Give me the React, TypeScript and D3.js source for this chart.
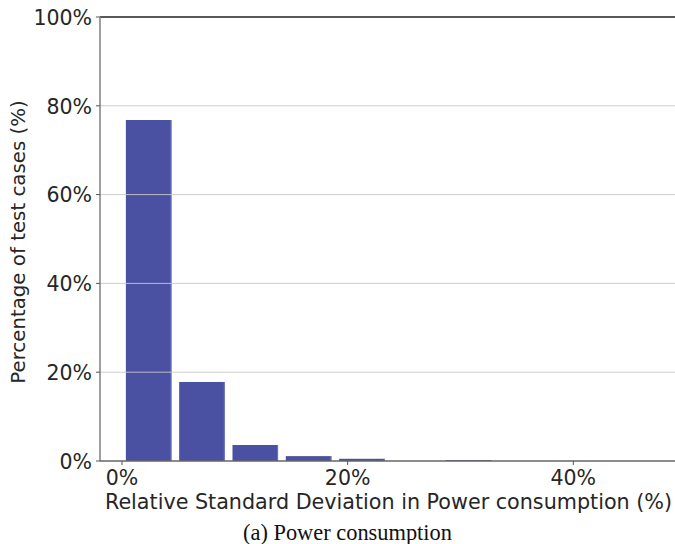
import React from "react";
import * as d3 from "d3";

// Histogram of relative standard deviation (bin width ≈ 4.725 %)
const binWidth = 4.725;
const binShares = [76.8, 17.8, 3.6, 1.1, 0.5, 0, 0.2, 0, 0, 0, 0, 0];
const yTicks = [0, 20, 40, 60, 80, 100];
const xTicks = [0, 20, 40];

const W = 675;
const H = 544;
const M = { left: 100, top: 17, right: 675, bottom: 461 };

export default function App() {
  const x = d3.scaleLinear().domain([0, 40]).range([122, 573.3]);
  const y = d3.scaleLinear().domain([0, 100]).range([M.bottom, M.top]);
  const rw = 0.855;
  const font = "DejaVu Sans, sans-serif";

  return (
    <svg
      width={W}
      height={H}
      style={{ position: "absolute", left: 0, top: 0, background: "#fff" }}
    >
      <defs>
        <clipPath id="plot">
          <rect x={M.left} y={M.top} width={M.right - M.left} height={M.bottom - M.top + 1} />
        </clipPath>
      </defs>
      <g clipPath="url(#plot)">
        {binShares.map((v, i) => {
          const x0 = x(i * binWidth);
          const x1 = x((i + 1) * binWidth);
          const w = (x1 - x0) * rw;
          const bx = x0 + ((x1 - x0) - w) / 2;
          return v > 0 ? (
            <g key={i}>
              <rect x={bx} y={y(v)} width={w} height={y(0) - y(v)} fill="#4a50a2" />
              <line x1={bx + w - 0.5} x2={bx + w - 0.5} y1={y(v)} y2={y(0)} stroke="#6f76bb" strokeWidth={1} />
            </g>
          ) : null;
        })}
      </g>
      {/* horizontal grid, drawn over the bars */}
      {yTicks.slice(1, -1).map((t) => (
        <line key={t} x1={M.left} x2={M.right} y1={y(t)} y2={y(t)} stroke="#c8c8c8" strokeOpacity={0.9} strokeWidth={1} />
      ))}
      {/* spines */}
      <line x1={M.left} x2={M.right} y1={M.top} y2={M.top} stroke="#222" strokeWidth={1.4} />
      <line x1={M.left} x2={M.left} y1={M.top} y2={M.bottom} stroke="#888" strokeWidth={1.6} />
      <line x1={M.left} x2={M.right} y1={M.bottom} y2={M.bottom} stroke="#666" strokeWidth={1.6} />
      {/* y ticks */}
      {yTicks.map((t) => (
        <g key={t}>
          <line x1={M.left - 4} x2={M.left} y1={y(t)} y2={y(t)} stroke="#555" strokeWidth={1} />
          <text x={92} y={y(t) + 7.7} textAnchor="end" fontFamily={font} fontSize={20.5} fill="#262626">
            {t}%
          </text>
        </g>
      ))}
      {/* x ticks */}
      {xTicks.map((t) => (
        <g key={t}>
          <line x1={x(t)} x2={x(t)} y1={M.bottom} y2={M.bottom + 4} stroke="#555" strokeWidth={1} />
          <text x={x(t)} y={484.5} textAnchor="middle" fontFamily={font} fontSize={20.5} fill="#262626">
            {t}%
          </text>
        </g>
      ))}
      <text x={388.5} y={509} textAnchor="middle" fontFamily={font} fontSize={20.7} fill="#262626">
        Relative Standard Deviation in Power consumption (%)
      </text>
      <text
        transform={`translate(25,242) rotate(-90)`}
        textAnchor="middle"
        fontFamily={font}
        fontSize={19.8}
        fill="#262626"
      >
        Percentage of test cases (%)
      </text>
      <text x={347.5} y={539.5} textAnchor="middle" fontFamily="Liberation Serif, Times New Roman, serif" fontSize={22.4} fill="#111">
        (a) Power consumption
      </text>
    </svg>
  );
}
